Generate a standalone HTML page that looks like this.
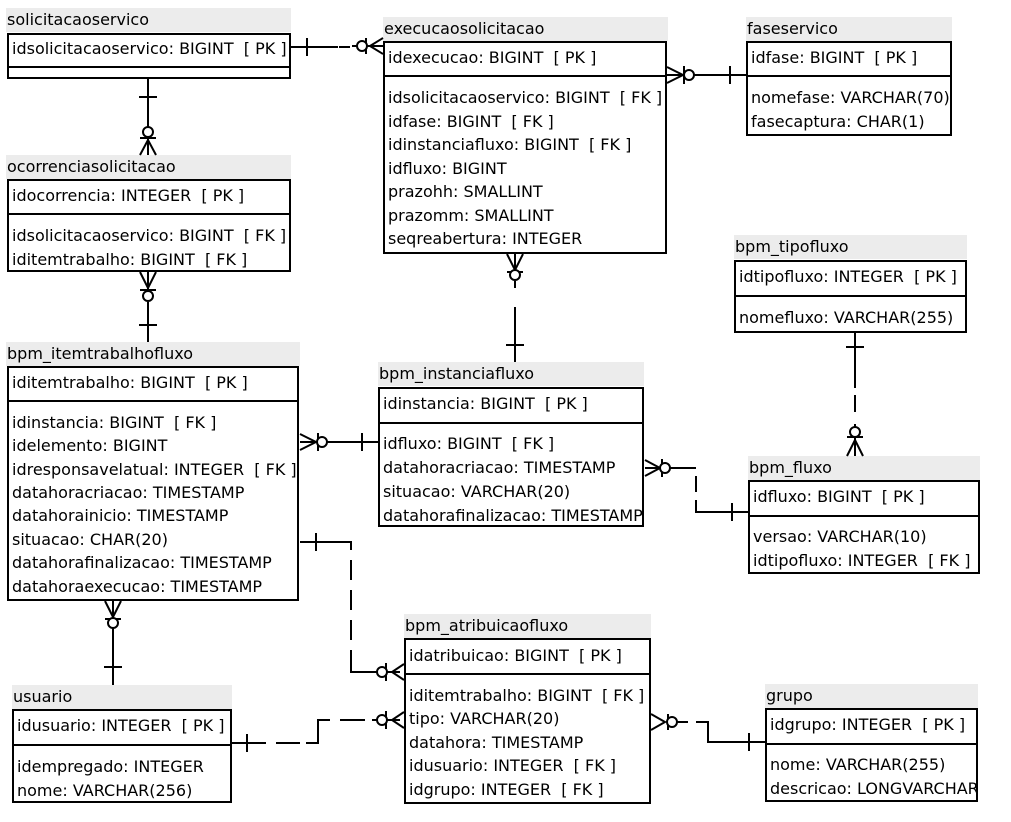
<!DOCTYPE html>
<html><head><meta charset="utf-8"><style>
body{margin:0;width:1011px;height:822px;background:#fff;position:relative;overflow:hidden;font-family:"DejaVu Sans","Liberation Sans",sans-serif;font-size:16px;color:#000}
.t{position:absolute;background:#ececec;height:24px;line-height:24px;padding-left:1px;white-space:nowrap;overflow:hidden}
.b{position:absolute;border:2px solid #000;box-sizing:border-box;overflow:hidden;white-space:nowrap}
.s{position:absolute;left:0;right:0;height:2px;background:#000}
.r{position:absolute;left:3px;line-height:20px}
svg{position:absolute;left:0;top:0}
</style></head><body>

<div class="t" style="left:6px;top:8px;width:284px">solicitacaoservico</div>
<div class="b" style="left:7px;top:33px;width:284px;height:46px"><div class="s" style="top:31px"></div>
<div class="r" style="top:4px">idsolicitacaoservico: BIGINT&nbsp; [ PK ]</div></div>

<div class="t" style="left:383px;top:17px;width:284px">execucaosolicitacao</div>
<div class="b" style="left:383px;top:41px;width:284px;height:213px"><div class="s" style="top:32px"></div>
<div class="r" style="top:5px">idexecucao: BIGINT&nbsp; [ PK ]</div>
<div class="r" style="top:45px">idsolicitacaoservico: BIGINT&nbsp; [ FK ]</div>
<div class="r" style="top:69px">idfase: BIGINT&nbsp; [ FK ]</div>
<div class="r" style="top:92px">idinstanciafluxo: BIGINT&nbsp; [ FK ]</div>
<div class="r" style="top:116px">idfluxo: BIGINT</div>
<div class="r" style="top:139px">prazohh: SMALLINT</div>
<div class="r" style="top:163px">prazomm: SMALLINT</div>
<div class="r" style="top:186px">seqreabertura: INTEGER</div></div>

<div class="t" style="left:746px;top:17px;width:205px">faseservico</div>
<div class="b" style="left:746px;top:41px;width:206px;height:95px"><div class="s" style="top:32px"></div>
<div class="r" style="top:5px">idfase: BIGINT&nbsp; [ PK ]</div>
<div class="r" style="top:45px">nomefase: VARCHAR(70)</div>
<div class="r" style="top:69px">fasecaptura: CHAR(1)</div></div>

<div class="t" style="left:6px;top:155px;width:284px">ocorrenciasolicitacao</div>
<div class="b" style="left:7px;top:179px;width:284px;height:93px"><div class="s" style="top:32px"></div>
<div class="r" style="top:5px">idocorrencia: INTEGER&nbsp; [ PK ]</div>
<div class="r" style="top:45px">idsolicitacaoservico: BIGINT&nbsp; [ FK ]</div>
<div class="r" style="top:69px">iditemtrabalho: BIGINT&nbsp; [ FK ]</div></div>

<div class="t" style="left:734px;top:235px;width:232px">bpm_tipofluxo</div>
<div class="b" style="left:734px;top:260px;width:233px;height:73px"><div class="s" style="top:33px"></div>
<div class="r" style="top:5px">idtipofluxo: INTEGER&nbsp; [ PK ]</div>
<div class="r" style="top:46px">nomefluxo: VARCHAR(255)</div></div>

<div class="t" style="left:6px;top:342px;width:293px">bpm_itemtrabalhofluxo</div>
<div class="b" style="left:7px;top:366px;width:292px;height:235px"><div class="s" style="top:32px"></div>
<div class="r" style="top:5px">iditemtrabalho: BIGINT&nbsp; [ PK ]</div>
<div class="r" style="top:45px">idinstancia: BIGINT&nbsp; [ FK ]</div>
<div class="r" style="top:68px">idelemento: BIGINT</div>
<div class="r" style="top:92px">idresponsavelatual: INTEGER&nbsp; [ FK ]</div>
<div class="r" style="top:115px">datahoracriacao: TIMESTAMP</div>
<div class="r" style="top:138px">datahorainicio: TIMESTAMP</div>
<div class="r" style="top:162px">situacao: CHAR(20)</div>
<div class="r" style="top:185px">datahorafinalizacao: TIMESTAMP</div>
<div class="r" style="top:209px">datahoraexecucao: TIMESTAMP</div></div>

<div class="t" style="left:378px;top:362px;width:265px">bpm_instanciafluxo</div>
<div class="b" style="left:378px;top:387px;width:266px;height:140px"><div class="s" style="top:33px"></div>
<div class="r" style="top:5px">idinstancia: BIGINT&nbsp; [ PK ]</div>
<div class="r" style="top:45px">idfluxo: BIGINT&nbsp; [ FK ]</div>
<div class="r" style="top:69px">datahoracriacao: TIMESTAMP</div>
<div class="r" style="top:93px">situacao: VARCHAR(20)</div>
<div class="r" style="top:117px">datahorafinalizacao: TIMESTAMP</div></div>

<div class="t" style="left:748px;top:456px;width:231px">bpm_fluxo</div>
<div class="b" style="left:748px;top:480px;width:232px;height:94px"><div class="s" style="top:33px"></div>
<div class="r" style="top:5px">idfluxo: BIGINT&nbsp; [ PK ]</div>
<div class="r" style="top:45px">versao: VARCHAR(10)</div>
<div class="r" style="top:69px">idtipofluxo: INTEGER&nbsp; [ FK ]</div></div>

<div class="t" style="left:404px;top:614px;width:246px">bpm_atribuicaofluxo</div>
<div class="b" style="left:404px;top:638px;width:247px;height:166px"><div class="s" style="top:33px"></div>
<div class="r" style="top:6px">idatribuicao: BIGINT&nbsp; [ PK ]</div>
<div class="r" style="top:46px">iditemtrabalho: BIGINT&nbsp; [ FK ]</div>
<div class="r" style="top:69px">tipo: VARCHAR(20)</div>
<div class="r" style="top:93px">datahora: TIMESTAMP</div>
<div class="r" style="top:116px">idusuario: INTEGER&nbsp; [ FK ]</div>
<div class="r" style="top:140px">idgrupo: INTEGER&nbsp; [ FK ]</div></div>

<div class="t" style="left:12px;top:685px;width:219px">usuario</div>
<div class="b" style="left:12px;top:709px;width:220px;height:94px"><div class="s" style="top:33px"></div>
<div class="r" style="top:5px">idusuario: INTEGER&nbsp; [ PK ]</div>
<div class="r" style="top:46px">idempregado: INTEGER</div>
<div class="r" style="top:70px">nome: VARCHAR(256)</div></div>

<div class="t" style="left:765px;top:684px;width:212px">grupo</div>
<div class="b" style="left:765px;top:708px;width:213px;height:94px"><div class="s" style="top:33px"></div>
<div class="r" style="top:5px">idgrupo: INTEGER&nbsp; [ PK ]</div>
<div class="r" style="top:45px">nome: VARCHAR(255)</div>
<div class="r" style="top:69px">descricao: LONGVARCHAR</div></div>

<svg width="1011" height="822" fill="none" stroke="#000" stroke-width="2">
<path d="M291 47H338M307 38V56M340 46V47H350M352 46H383M370 46L383 38M370 46L383 54M366 38V54"/><circle cx="362" cy="46" r="5" fill="#fff"/>
<path d="M148 79V155M139 97H157M148 140L140 155M148 140L156 155M140 138H156"/><circle cx="148" cy="132" r="5" fill="#fff"/>
<path d="M148 272V290M140 272L148 288L156 272M140 290H156M148 302V342M139 325H157"/><circle cx="148" cy="296" r="5" fill="#fff"/>
<path d="M667 75H746M667 67L683 75L667 83M684 66V84M730 66V84"/><circle cx="689" cy="75" r="5" fill="#fff"/>
<path d="M515 254V271M507 254L515 270L523 254M507 272H523M515 281V288M515 307V362M506 345H524"/><circle cx="515" cy="275" r="5" fill="#fff"/>
<path d="M855 333V388M846 347H864M855 395V412M855 424V456M847 456L855 440L863 456M847 437H863"/><circle cx="855" cy="432" r="5" fill="#fff"/>
<path d="M300 442H378M300 434L316 442L300 450M318 433V451M362 433V451"/><circle cx="322" cy="442" r="5" fill="#fff"/>
<path d="M645 468H696M645 460L660 468L645 476M662 459V477M696 476V492M696 500V512H748M732 503V521"/><circle cx="665" cy="468" r="5" fill="#fff"/>
<path d="M300 542H351V550M316 533V551M351 560V580M351 590V610M351 620V640M351 650V672H400M404 664L392 672L404 680M386 663V681"/><circle cx="382" cy="672" r="5" fill="#fff"/>
<path d="M232 743H266M247 734V752M276 743H300M306 743H318V720H330M340 720H365M372 720H400M404 712L392 720L404 728M386 711V729"/><circle cx="382" cy="720" r="5" fill="#fff"/>
<path d="M651 714L665 722L651 730M668 714V730M676 722H688M696 722H708V742H765M749 733V751"/><circle cx="672" cy="722" r="5" fill="#fff"/>
<path d="M113 601V618M105 601L113 617L121 601M105 619H121M113 628V685M104 667H122"/><circle cx="113" cy="623" r="5" fill="#fff"/>
</svg>
</body></html>
